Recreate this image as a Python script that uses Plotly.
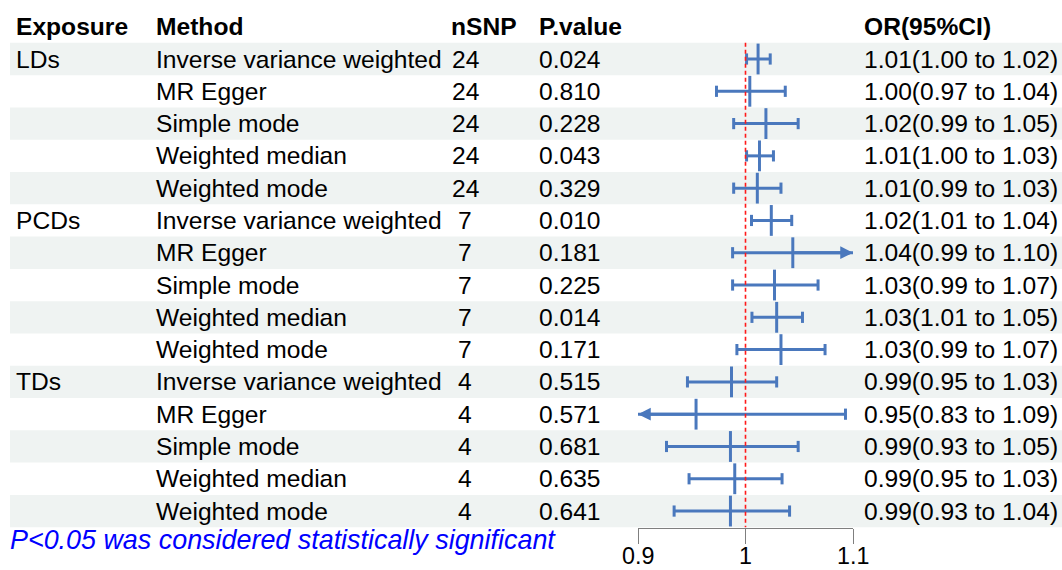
import plotly.graph_objects as go

# ---------------- data ----------------
exposures = ["LDs", "PCDs", "TDs"]
methods = ["Inverse variance weighted", "MR Egger", "Simple mode",
           "Weighted median", "Weighted mode"]
nsnp_by_exposure = [24, 7, 4]
p_values = [0.024, 0.810, 0.228, 0.043, 0.329,
            0.010, 0.181, 0.225, 0.014, 0.171,
            0.515, 0.571, 0.681, 0.635, 0.641]
or_est = [1.0117, 1.004, 1.019, 1.013, 1.011,
          1.024, 1.044, 1.027, 1.029, 1.033,
          0.987, 0.954, 0.986, 0.990, 0.986]
or_low = [1.001, 0.973, 0.989, 1.001, 0.989,
          1.0056, 0.988, 0.988, 1.006, 0.992,
          0.946, 0.830, 0.9265, 0.9475, 0.9336]
or_high = [1.023, 1.037, 1.049, 1.026, 1.033,
           1.043, 1.102, 1.0675, 1.053, 1.074,
           1.029, 1.093, 1.049, 1.034, 1.041]
x_ticks = [0.9, 1.0, 1.1]
x_tick_labels = ["0.9", "1", "1.1"]
headers = ["Exposure", "Method", "nSNP", "P.value", "OR(95%CI)"]
footnote = "P<0.05 was considered statistically significant"

# ---------------- layout constants ----------------
W, H = 1062, 570
FONT = "Liberation Sans, Arial, sans-serif"
FS = 24.6
BLUE = "#4a78bd"
XMIN, XMAX = x_ticks[0], x_ticks[-1]
row_px0, row_step = 59.0, 32.29
y_top = 1 - row_px0 / row_step
y_bot = y_top + H / row_step

n = len(p_values)
rows = list(range(1, n + 1))
exp_col, meth_col, nsnp_col = [], [], []
for i, e in enumerate(exposures):
    for j, m in enumerate(methods):
        exp_col.append(e if j == 0 else "")
        meth_col.append(m)
        nsnp_col.append(str(nsnp_by_exposure[i]))

fig = go.Figure()
shapes = []
annotations = []

# alternating row bands
for k in rows:
    if k % 2 == 1:
        shapes.append(dict(type="rect", xref="paper", yref="y",
                           x0=10 / W, x1=1, y0=k - 0.5, y1=k + 0.5,
                           fillcolor="#eff3f2", line=dict(width=0), layer="below"))

# reference line at 1
shapes.append(dict(type="line", xref="x", yref="y", x0=1, x1=1,
                   y0=0.5, y1=n + 0.5,
                   line=dict(color="#ff1a1a", width=1.6, dash="4px,3px"), layer="above"))

# CI lines
lx, ly = [], []
cap_x, cap_y = [], []
for k, e, lo, hi in zip(rows, or_est, or_low, or_high):
    lo_c = max(lo, XMIN)
    hi_c = min(hi, XMAX)
    lx += [lo_c, hi_c, None]
    ly += [k, k, None]
    if lo >= XMIN:
        cap_x.append(lo); cap_y.append(k)
    else:
        annotations.append(dict(x=XMIN, y=k, xref="x", yref="y",
                                ax=e, ay=k, axref="x", ayref="y",
                                showarrow=True, arrowhead=2, arrowsize=0.85,
                                arrowwidth=3, arrowcolor=BLUE, text="", standoff=0))
    if hi <= XMAX:
        cap_x.append(hi); cap_y.append(k)
    else:
        annotations.append(dict(x=XMAX, y=k, xref="x", yref="y",
                                ax=e, ay=k, axref="x", ayref="y",
                                showarrow=True, arrowhead=2, arrowsize=0.85,
                                arrowwidth=3, arrowcolor=BLUE, text="", standoff=0))

fig.add_trace(go.Scatter(x=lx, y=ly, mode="lines",
                         line=dict(color=BLUE, width=3),
                         hoverinfo="skip", showlegend=False, cliponaxis=False))
fig.add_trace(go.Scatter(x=cap_x, y=cap_y, mode="markers",
                         marker=dict(symbol="line-ns", size=8,
                                     line=dict(color=BLUE, width=3)),
                         hoverinfo="skip", showlegend=False, cliponaxis=False))
fig.add_trace(go.Scatter(x=or_est, y=rows, mode="markers",
                         marker=dict(symbol="line-ns", size=22,
                                     line=dict(color=BLUE, width=3)),
                         showlegend=False, cliponaxis=False))

# table text
col_x = {"exp": 14, "meth": 154, "p": 537, "or": 862}
nsnp_center = 465
hdr_pos = [(col_x["exp"], "left"), (col_x["meth"], "left"), (449, "left"),
           (col_x["p"], "left"), (col_x["or"], "left")]
for (hx, anc), h in zip(hdr_pos, headers):
    annotations.append(dict(x=hx / W, y=0, xref="paper", yref="y", text=f"<b>{h}</b>",
                            showarrow=False, xanchor=anc, yanchor="middle",
                            font=dict(family=FONT, size=FS, color="black")))

for k, ex, me, ns, p, e, lo, hi in zip(rows, exp_col, meth_col, nsnp_col,
                                       p_values, or_est, or_low, or_high):
    cells = [
        (col_x["exp"], ex, "left"),
        (col_x["meth"], me, "left"),
        (nsnp_center, ns, "center"),
        (col_x["p"], f"{p:.3f}", "left"),
        (col_x["or"], f"{e:.2f}({lo:.2f} to {hi:.2f})", "left"),
    ]
    for cx, txt, anc in cells:
        if txt == "":
            continue
        annotations.append(dict(x=cx / W, y=k, xref="paper", yref="y", text=txt,
                                showarrow=False, xanchor=anc, yanchor="middle",
                                font=dict(family=FONT, size=FS, color="black")))

# x tick labels (placed just under the tick marks)
for tv, tl in zip(x_ticks, x_tick_labels):
    annotations.append(dict(x=tv, y=1 - 556 / H, xref="x", yref="paper", text=tl,
                            showarrow=False, xanchor="center", yanchor="middle",
                            font=dict(family=FONT, size=23.3, color="black")))

annotations.append(dict(x=8 / W, y=1 - 540 / H, xref="paper", yref="paper",
                        text=f"<i>{footnote}</i>", showarrow=False,
                        xanchor="left", yanchor="middle",
                        font=dict(family=FONT, size=26.9, color="#0000ff")))

fig.update_layout(
    width=W, height=H,
    margin=dict(l=0, r=0, t=0, b=0, autoexpand=False),
    paper_bgcolor="white", plot_bgcolor="rgba(0,0,0,0)",
    shapes=shapes, annotations=annotations,
    xaxis=dict(domain=[638 / W, 853 / W], range=[XMIN, XMAX],
               anchor="free", position=1 - 528 / H,
               showgrid=False, zeroline=False, showline=True,
               linecolor="#7f7f7f", linewidth=1,
               ticks="outside", ticklen=15, tickcolor="#7f7f7f", tickwidth=1,
               tickvals=x_ticks, showticklabels=False),
    yaxis=dict(domain=[0, 1], range=[y_bot, y_top], visible=False,
               showgrid=False, zeroline=False),
)

fig.write_html(
    "out.html",
    config={"displayModeBar": False},
    post_script="document.body.style.margin='0';document.body.style.padding='0';"
                "document.body.style.overflow='hidden';",
)
